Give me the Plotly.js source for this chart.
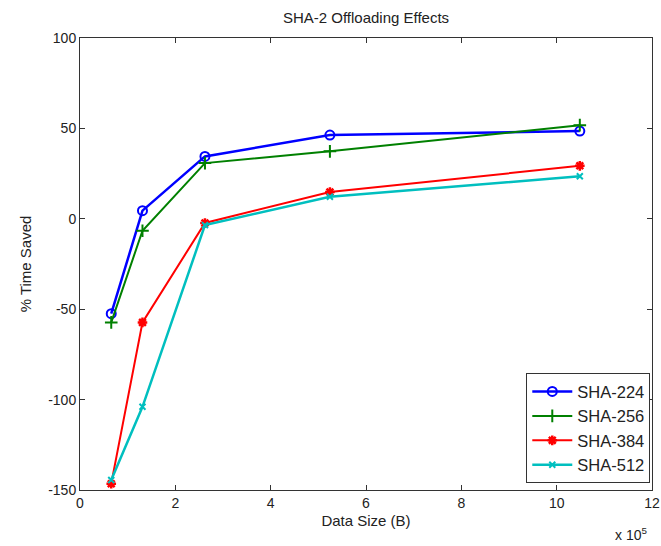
<!DOCTYPE html>
<html>
<head>
<meta charset="utf-8">
<script src="https://cdn.plot.ly/plotly-3.0.1.min.js"></script>
<style>
  html, body { margin: 0; padding: 0; background: #fff; }
  #chart { width: 661px; height: 546px; }
</style>
</head>
<body>
<div id="chart"></div>
<script>
// Input data sizes in bytes (plotted in units of 1e5)
const dataSizes = [65536, 131072, 262144, 524288, 1048576];

// Percentage of time saved by offloading, per hash variant
const sha224 = [-52.5, 4.5, 34.5, 46.3, 48.5];
const sha256 = [-57.3, -6.6, 30.8, 37.3, 51.8];
const sha384 = [-146.5, -57.3, -2.3, 14.8, 29.3];
const sha512 = [-144.5, -104, -3.5, 12.2, 23.5];

const seriesNames = ['SHA-224', 'SHA-256', 'SHA-384', 'SHA-512'];
const xTicks = [0, 2, 4, 6, 8, 10, 12];
const yTicks = [-150, -100, -50, 0, 50, 100];

const xScaled = dataSizes.map(s => s / 1e5);

const styles = [
  { color: '#0000ff', symbol: 'circle-open', size: 9, width: 2.5, mline: 2 },
  { color: '#008000', symbol: 'cross-thin-open', size: 9, width: 2, mline: 2 },
  { color: '#ff0000', symbol: 'asterisk-open', size: 8, width: 2, mline: 2.5 },
  { color: '#00bfbf', symbol: 'x-thin-open', size: 6, width: 2.5, mline: 2 }
];

const values = [sha224, sha256, sha384, sha512];

const traces = values.map((ys, i) => ({
  type: 'scatter',
  mode: 'lines+markers',
  name: seriesNames[i],
  x: xScaled,
  y: ys,
  line: { color: styles[i].color, width: styles[i].width },
  marker: {
    symbol: styles[i].symbol,
    size: styles[i].size,
    color: styles[i].color,
    line: { color: styles[i].color, width: styles[i].mline }
  }
}));

const axisColor = '#333333';
const fontFam = 'Liberation Sans, Arial, Helvetica, sans-serif';

const layout = {
  width: 661,
  height: 546,
  margin: { l: 80, r: 9, t: 38, b: 56 },
  paper_bgcolor: '#ffffff',
  plot_bgcolor: '#ffffff',
  font: { family: fontFam, size: 14, color: '#222' },
  showlegend: true,
  title: {
    text: 'SHA-2 Offloading Effects',
    font: { family: fontFam, size: 15, color: '#222' },
    x: 0.5, xanchor: 'center', xref: 'paper',
    y: 0.967, yanchor: 'middle', yref: 'container'
  },
  xaxis: {
    range: [0, 12],
    tickvals: xTicks,
    ticktext: xTicks.map(String),
    ticks: 'inside',
    ticklen: 5,
    tickcolor: axisColor,
    showline: true,
    linecolor: axisColor,
    linewidth: 1,
    mirror: 'ticks',
    showgrid: false,
    zeroline: false,
    tickfont: { size: 14 },
    title: { text: 'Data Size (B)', font: { size: 15 }, standoff: 5 }
  },
  yaxis: {
    range: [-150, 100],
    tickvals: yTicks,
    ticktext: yTicks.map(String),
    ticks: 'inside',
    ticklen: 5,
    tickcolor: axisColor,
    showline: true,
    linecolor: axisColor,
    linewidth: 1,
    mirror: 'ticks',
    showgrid: false,
    zeroline: false,
    tickfont: { size: 14 },
    title: { text: '% Time Saved', font: { size: 15 }, standoff: 12 }
  },
  legend: {
    x: 0.997, xanchor: 'right',
    y: 0.015, yanchor: 'bottom',
    bgcolor: '#ffffff',
    bordercolor: axisColor,
    borderwidth: 1,
    font: { family: fontFam, size: 16.5, color: '#222' },
    itemwidth: 40
  },
  annotations: [{
    text: 'x 10<sup>5</sup>',
    xref: 'paper', yref: 'paper',
    x: 0.963, y: -0.097,
    xanchor: 'center', yanchor: 'middle',
    showarrow: false,
    font: { family: fontFam, size: 14, color: '#222' }
  }]
};

Plotly.newPlot('chart', traces, layout, { displayModeBar: false, staticPlot: true });
</script>
</body>
</html>
